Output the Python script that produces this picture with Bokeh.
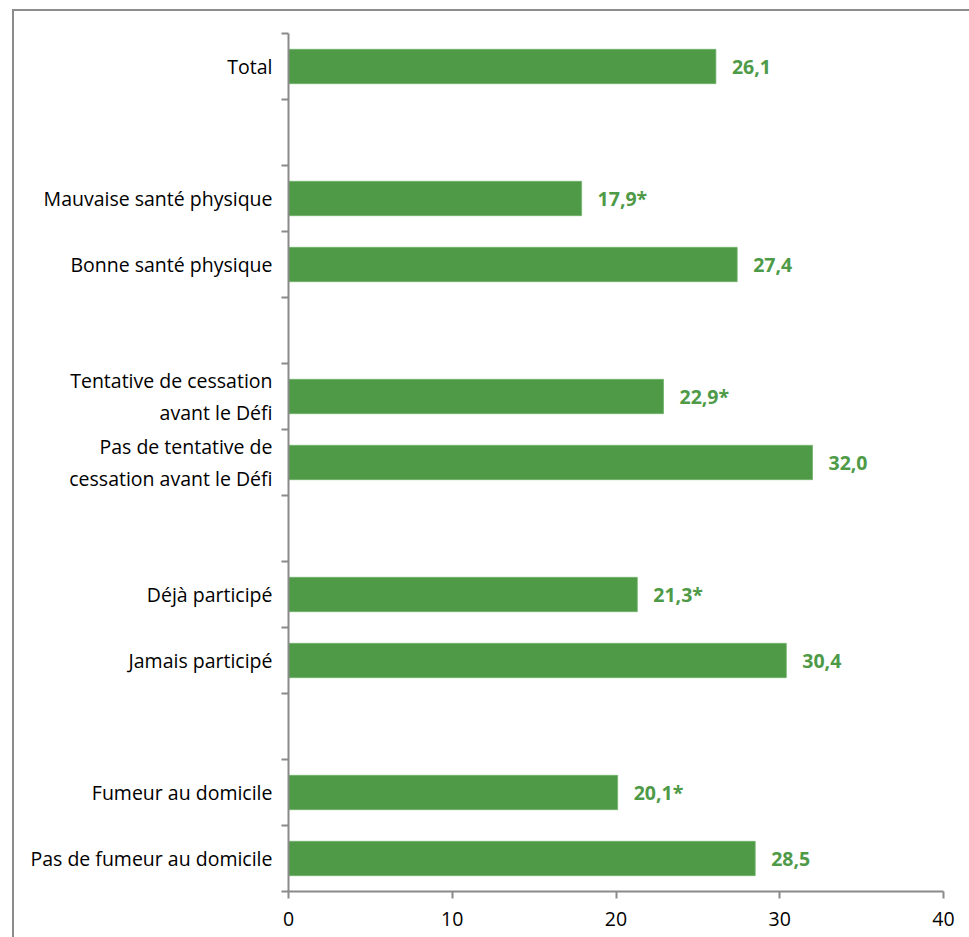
from bokeh.plotting import figure
from bokeh.models import Range1d, FixedTicker, ColumnDataSource, InlineStyleSheet
from bokeh.core.properties import value
from bokeh.embed import file_html
from bokeh.resources import INLINE

# ---- data ----
categories = [
    "Total",
    "Mauvaise santé physique",
    "Bonne santé physique",
    "Tentative de cessation\navant le Défi",
    "Pas de tentative de\ncessation avant le Défi",
    "Déjà participé",
    "Jamais participé",
    "Fumeur au domicile",
    "Pas de fumeur au domicile",
]
values = [26.1, 17.9, 27.4, 22.9, 32.0, 21.3, 30.4, 20.1, 28.5]
significant = [False, True, False, True, False, True, False, True, False]
group_sizes = [1, 2, 2, 2, 2]
x_ticks = [0, 10, 20, 30, 40]

# slot positions: one empty slot between groups
positions = []
slot = 0
for g in group_sizes:
    for _ in range(g):
        positions.append(slot)
        slot += 1
    slot += 1
n_slots = slot - 1

labels = [f"{v:.1f}".replace(".", ",") + ("*" if s else "") for v, s in zip(values, significant)]

FONT = "Open Sans"
GREEN = "#4e9a47"
GRAY = "#8a8a8a"

p = figure(
    width=969, height=937,
    x_range=Range1d(0, 40),
    y_range=Range1d(n_slots - 0.5, -0.5),
    output_backend="svg", toolbar_location=None,
    min_border_left=288, min_border_right=26,
    min_border_top=33, min_border_bottom=46,
)
p.outline_line_color = None
p.xgrid.visible = False
p.ygrid.visible = False

src = ColumnDataSource(dict(y=positions, v=values, lab=labels))
p.hbar(y="y", right="v", left=0, height=0.52, source=src,
       fill_color=GREEN, line_color="#72b26b", line_width=0.8)
p.text(x="v", y="y", text="lab", source=src, x_offset=16,
       text_baseline="middle", text_align="left",
       text_font=value(FONT), text_font_style="bold",
       text_font_size="19.5px", text_color=GREEN)

# y axis: labels at bar centres, tick marks at slot boundaries (minor ticks)
yax = p.yaxis[0]
yax.ticker = FixedTicker(ticks=positions,
                         minor_ticks=[i - 0.5 for i in range(n_slots + 1)])
yax.major_label_overrides = {pos: c for pos, c in zip(positions, categories)}
yax.major_tick_out = 0
yax.major_tick_in = 0
yax.minor_tick_out = 7
yax.minor_tick_in = 0
yax.minor_tick_line_color = GRAY
yax.minor_tick_line_width = 2
yax.axis_line_color = GRAY
yax.axis_line_width = 2
yax.major_label_standoff = 9
yax.major_label_text_font = FONT
yax.major_label_text_font_size = "19.5px"
yax.major_label_text_color = "#000000"

xax = p.xaxis[0]
xax.ticker = FixedTicker(ticks=x_ticks, minor_ticks=[])
xax.major_tick_out = 7
xax.major_tick_in = 0
xax.major_tick_line_color = GRAY
xax.major_tick_line_width = 2
xax.axis_line_color = GRAY
xax.axis_line_width = 2
xax.major_label_standoff = 13
xax.major_label_text_font = FONT
xax.major_label_text_font_size = "19.5px"
xax.major_label_text_color = "#000000"

# chart border (top and left edges; right/bottom lie outside the window)
p.stylesheets = [InlineStyleSheet(css="""
:host::after {
  content: "";
  position: fixed;
  left: 12px; top: 9px;
  width: 2000px; height: 2000px;
  border-left: 2px solid #8c8c8c;
  border-top: 2px solid #8c8c8c;
  pointer-events: none;
}
:host { overflow: hidden; }
""")]

open("out.html", "w").write(file_html(p, INLINE))
